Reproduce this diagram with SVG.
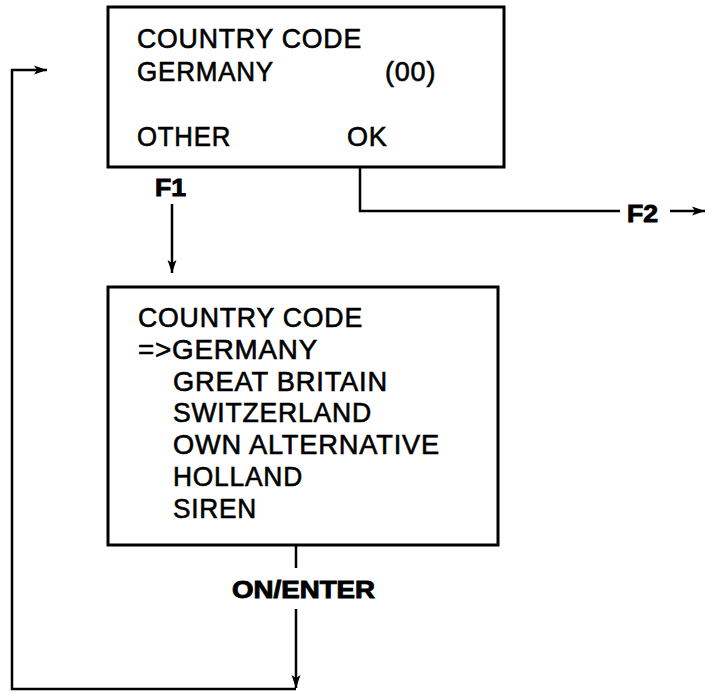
<svg xmlns="http://www.w3.org/2000/svg" width="720" height="700" viewBox="0 0 720 700">
<style>
.box{fill:#fff;stroke:#000;stroke-width:3}
.t{font-family:"Liberation Sans",Arial,sans-serif;font-size:27px;letter-spacing:0.8px;fill:#000;stroke:#000;stroke-width:0.6}
.lbl{font-family:"Liberation Sans",Arial,sans-serif;font-size:23px;font-weight:bold;fill:#000;stroke:#000;stroke-width:0.9}
.ln{fill:none;stroke:#000;stroke-width:2.5}
</style>
<defs>
<marker id="ah" viewBox="0 0 13 11" refX="13" refY="5.5" markerWidth="13" markerHeight="11" markerUnits="userSpaceOnUse" orient="auto">
<path d="M0,1 L13,5.5 L0,10 L3,5.5 Z" fill="#000"/>
</marker>
</defs>
<rect width="720" height="700" fill="#fff"/>
<g id="connectors">
<path class="ln" d="M360,168 V211 H620"/>
<path class="ln" d="M670,211 H705" marker-end="url(#ah)"/>
<path class="ln" d="M172,204 V273" marker-end="url(#ah)"/>
<path class="ln" d="M296,545 V568"/>
<path class="ln" d="M296,609 V688" marker-end="url(#ah)"/>
<path class="ln" d="M296,689 H12 V70 H47" marker-end="url(#ah)"/>
</g>
<g id="labels">
<text class="lbl" x="155" y="196" textLength="31" lengthAdjust="spacingAndGlyphs">F1</text>
<text class="lbl" x="627" y="222" textLength="31" lengthAdjust="spacingAndGlyphs">F2</text>
<text class="lbl" x="232" y="598" textLength="143" lengthAdjust="spacingAndGlyphs">ON/ENTER</text>
</g>
<g id="screen1">
<rect class="box" x="108" y="7" width="396" height="160"/>
<text class="t" x="137" y="48" textLength="225" lengthAdjust="spacingAndGlyphs">COUNTRY CODE</text>
<text class="t" x="137" y="81" textLength="137" lengthAdjust="spacingAndGlyphs">GERMANY</text>
<text class="t" x="385" y="81">(00)</text>
<text class="t" x="137" y="146" textLength="94" lengthAdjust="spacingAndGlyphs">OTHER</text>
<text class="t" x="347" y="146">OK</text>
</g>
<g id="screen2">
<rect class="box" x="108" y="287" width="390" height="258"/>
<text class="t" x="138" y="327" textLength="225" lengthAdjust="spacingAndGlyphs">COUNTRY CODE</text>
<text class="t" x="138" y="359" textLength="180" lengthAdjust="spacingAndGlyphs">=&gt;GERMANY</text>
<text class="t" x="173" y="391" textLength="215" lengthAdjust="spacingAndGlyphs">GREAT BRITAIN</text>
<text class="t" x="173" y="422" textLength="199" lengthAdjust="spacingAndGlyphs">SWITZERLAND</text>
<text class="t" x="173" y="454" textLength="267" lengthAdjust="spacingAndGlyphs">OWN ALTERNATIVE</text>
<text class="t" x="173" y="486" textLength="130" lengthAdjust="spacingAndGlyphs">HOLLAND</text>
<text class="t" x="173" y="518" textLength="84" lengthAdjust="spacingAndGlyphs">SIREN</text>
</g>
</svg>
